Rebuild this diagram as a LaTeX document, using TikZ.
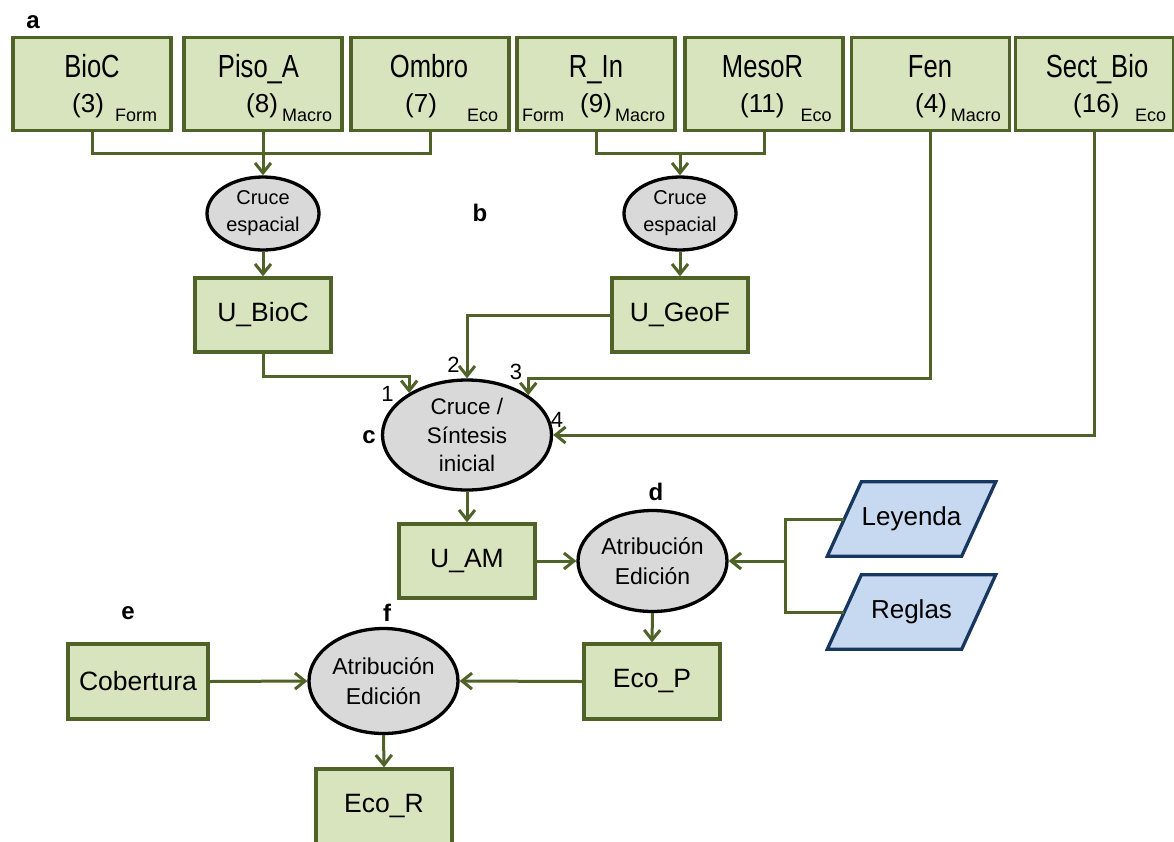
\documentclass[tikz,border=0pt]{standalone}
\usepackage{fontspec}
\setmainfont{Liberation Sans}
\newfontfamily\condfont{Liberation Sans}[FakeStretch=0.8]
\usetikzlibrary{arrows.meta,shapes.geometric,backgrounds}
\definecolor{boxfill}{HTML}{D7E4BD}
\definecolor{boxline}{HTML}{4F6228}
\definecolor{elfill}{HTML}{D9D9D9}
\definecolor{parafill}{HTML}{C6D9F1}
\definecolor{paraline}{HTML}{17375E}
\tikzset{
  gbox/.style={draw=boxline, fill=boxfill, line width=3.3pt, rectangle, inner sep=0pt, font=\fontsize{26.5}{30}\selectfont},
  topbox/.style={gbox, minimum width=158pt, minimum height=93pt},
  midbox/.style={gbox, minimum width=136pt, minimum height=74pt},
  oval/.style={ellipse, draw=black, fill=elfill, line width=3.3pt, inner sep=0pt, align=center},
  conn/.style={draw=boxline, line width=3pt},
  arr/.style={conn, -{Straight Barb[length=10pt,width=16pt]}},
  ttl/.style={font=\condfont\fontsize{32}{38}\selectfont, anchor=base, inner sep=0pt},
  num/.style={font=\fontsize{26}{30}\selectfont, anchor=base west, inner sep=0pt},
  subtxt/.style={font=\fontsize{18}{20}\selectfont, anchor=base west, inner sep=0pt},
  lbl/.style={font=\bfseries\fontsize{24}{28}\selectfont, inner sep=0pt},
  nlbl/.style={font=\fontsize{22}{24}\selectfont, inner sep=0pt},
  paratxt/.style={rectangle, inner sep=0pt, minimum width=134pt, minimum height=74pt, font=\fontsize{26}{30}\selectfont},
  para/.style={fill=parafill, draw=paraline, line width=3.3pt, line join=miter}
}
\begin{document}
\begin{tikzpicture}[x=1pt,y=-1pt]
\useasboundingbox (0,0) rectangle (1174,841);

% top boxes
\node[topbox] (bioc) at (92,84) {};
\node[topbox] (piso) at (263,84) {};
\node[topbox] (ombro) at (430,84) {};
\node[topbox] (rin) at (596,84) {};
\node[topbox] (meso) at (764,84) {};
\node[topbox] (fen) at (930.5,84) {};
\node[topbox] (sect) at (1094.5,84) {};

\node[ttl] (t1) at (92,77) {BioC};
\node[num] (n1) at (72,112) {(3)};
\node[subtxt] (s1) at (115,121) {Form};
\node[ttl] (t2) at (258.5,77) {Piso\_A};
\node[num] (n2) at (246,112) {(8)};
\node[subtxt] (s2) at (282,121) {Macro};
\node[ttl] (t3) at (429,77) {Ombro};
\node[num] (n3) at (405,112) {(7)};
\node[subtxt] (s3) at (467,121) {Eco};
\node[ttl] (t4) at (596,77) {R\_In};
\node[subtxt] (s4a) at (522,121) {Form};
\node[num] (n4) at (580,112) {(9)};
\node[subtxt] (s4) at (615,121) {Macro};
\node[ttl] (t5) at (762.5,77) {MesoR};
\node[num] (n5) at (740,112) {(11)};
\node[subtxt] (s5) at (800.5,121) {Eco};
\node[ttl] (t6) at (930,77) {Fen};
\node[num] (n6) at (915,112) {(4)};
\node[subtxt] (s6) at (950.7,121) {Macro};
\node[ttl] (t7) at (1097,77) {Sect\_Bio};
\node[num] (n7) at (1073,112) {(16)};
\node[subtxt] (s7) at (1135,121) {Eco};

% crossing ellipses
\node[oval, minimum width=112pt, minimum height=73pt, font=\fontsize{20}{27}\selectfont] (cr1) at (263,213.5) {Cruce\\espacial};
\node[oval, minimum width=112pt, minimum height=73pt, font=\fontsize{20}{27}\selectfont] (cr2) at (680,213.5) {Cruce\\espacial};

\coordinate (j1) at (263,153);
\coordinate (j2) at (680,153);

\node[midbox] (ubioc) at (263,315) {U\_BioC};
\node[midbox] (ugeof) at (680,315) {U\_GeoF};

\node[oval, minimum width=169pt, minimum height=110pt, font=\fontsize{22.5}{28.5}\selectfont] (cs) at (467,435) {Cruce /\\Síntesis\\inicial};

\node[midbox] (uam) at (467,561) {U\_AM};
\node[oval, minimum width=149pt, minimum height=101pt, font=\fontsize{23}{30}\selectfont] (atd) at (652.5,561) {Atribución\\Edición};
\node[midbox, minimum height=75pt] (ecop) at (652,681.5) {Eco\_P};

\node[paratxt] (ley) at (911.5,519) {Leyenda};
\node[paratxt] (reg) at (911.5,612) {Reglas};
\begin{scope}[on background layer]
\draw[para] ([xshift=-17pt]ley.south west) -- ([xshift=17pt]ley.north west) -- ([xshift=17pt]ley.north east) -- ([xshift=-17pt]ley.south east) -- cycle;
\draw[para] ([xshift=-17pt]reg.south west) -- ([xshift=17pt]reg.north west) -- ([xshift=17pt]reg.north east) -- ([xshift=-17pt]reg.south east) -- cycle;
\end{scope}
\coordinate (br) at (785,561);

\node[midbox, minimum width=140pt, minimum height=75pt] (cob) at (138,681.5) {Cobertura};
\node[oval, minimum width=149pt, minimum height=105pt, font=\fontsize{23}{30}\selectfont] (atf) at (383.5,681) {Atribución\\Edición};
\node[midbox, minimum height=75pt] (ecor) at (384,806.5) {Eco\_R};

% labels
\node[lbl] (la) at (33,22) {a};
\node[lbl] (lb) at (480,213) {b};
\node[lbl] (lc) at (369,437) {c};
\node[lbl] (ld) at (656,492) {d};
\node[lbl] (le) at (128,613) {e};
\node[lbl] (lf) at (387,613) {f};
\node[nlbl] (l1) at (387.5,394) {1};
\node[nlbl] (l2) at (453.5,365) {2};
\node[nlbl] (l3) at (516,371.5) {3};
\node[nlbl] (l4) at (557,419.5) {4};

% connectors
\draw[conn] (bioc.south) |- (j1) -| (ombro.south);
\draw[arr] (piso.south) -- (cr1.north);
\draw[conn] (rin.south) |- (j2) -| (meso.south);
\draw[arr] (j2) -- (cr2.north);
\draw[arr] (cr1.south) -- (ubioc.north);
\draw[arr] (cr2.south) -- (ugeof.north);
\draw[arr] (ubioc.south) -- ++(0,23) -| (cs.144.5);
\draw[arr] (ugeof.west) -| (cs.north);
\draw[arr] (fen.south) -- ++(0,246) -| (cs.33.7);
\draw[arr] (sect.south) |- (cs.east);
\draw[arr] (cs.south) -- (uam.north);
\draw[arr] (uam.east) -- (atd.west);
\draw[arr] (atd.south) -- (ecop.north);
\draw[conn] (ley.west) -| (br) |- (reg.west);
\draw[arr] (br) -- (atd.east);
\draw[arr] (cob.east) -- (atf.west);
\draw[arr] (ecop.west) -- (atf.east);
\draw[arr] (atf.south) -- (ecor.north);
\end{tikzpicture}
\end{document}
